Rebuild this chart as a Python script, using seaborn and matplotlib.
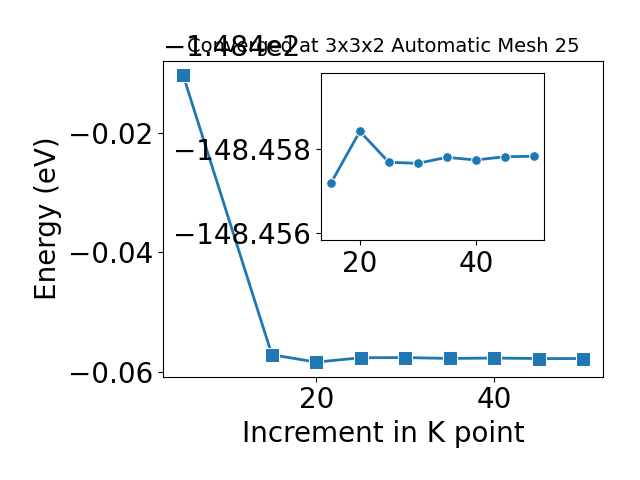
import matplotlib
matplotlib.use("Agg")
import matplotlib.pyplot as plt
import seaborn as sns
import pandas as pd
from matplotlib.ticker import MultipleLocator, FixedLocator

# Data
kpoints = [5, 15, 20, 25, 30, 35, 40, 45, 50]
energy = [-148.41029, -148.457176, -148.458414, -148.457676, -148.457652,
          -148.457795, -148.457731, -148.45781, -148.457819]
inset_kpoints = kpoints[1:]
inset_energy = energy[1:]

title = "Converged at 3x3x2 Automatic Mesh 25"
xlabel = "Increment in K point"
ylabel = "Energy (eV)"

df = pd.DataFrame({"k": kpoints, "E": energy})
df_in = pd.DataFrame({"k": inset_kpoints, "E": inset_energy})

plt.rcParams['font.family'] = ['DejaVu Sans']
fig = plt.figure(figsize=(6.4, 4.8), dpi=100)
ax = fig.add_axes([163/640, 1 - 376.5/480, (603-163)/640, (376.5-60.5)/480])
sns.lineplot(data=df, x="k", y="E", marker="s", markersize=10, linewidth=2,
             color="#1f77b4", ax=ax)
ax.set_xlabel(xlabel, fontsize=20)
ax.set_ylabel(ylabel, fontsize=20)
ax.set_title(title, fontsize=14, y=1.0)
ax.tick_params(labelsize=20)
ax.xaxis.set_major_locator(MultipleLocator(20))
ax.yaxis.set_major_locator(FixedLocator([-148.46, -148.44, -148.42]))
ax.ticklabel_format(axis="y", useOffset=-148.4)
ax.yaxis.get_offset_text().set_fontsize(20)

ax_in = fig.add_axes([320.7/640, 1 - 240/480, (544-320.7)/640, (240-72.7)/480])
sns.lineplot(data=df_in, x="k", y="E", marker="o", markersize=7, linewidth=2,
             color="#1f77b4", ax=ax_in)
ax_in.set_xlabel("")
ax_in.set_ylabel("")
ax_in.tick_params(labelsize=20)
ax_in.xaxis.set_major_locator(MultipleLocator(20))
ax_in.set_ylim(-148.455826, -148.45981)
ax_in.yaxis.set_major_locator(FixedLocator([-148.458, -148.456]))
ax_in.ticklabel_format(axis="y", useOffset=False)

fig.savefig("out.png", dpi=100)
